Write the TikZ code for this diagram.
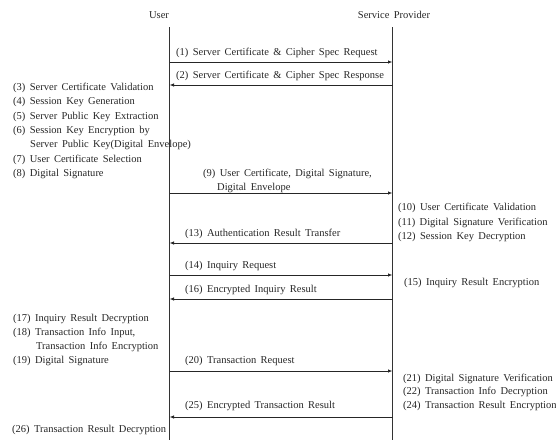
\documentclass[tikz,border=0pt]{standalone}
\usepackage{fontspec}
\setmainfont{Liberation Serif}
\usetikzlibrary{arrows.meta}
\begin{document}
\begin{tikzpicture}[x=1pt,y=-1pt,
  txt/.style={anchor=base west,inner sep=0pt,font={\fontsize{10.5}{12}\selectfont\spaceskip=4.4pt\relax},text=black!85},
  ttl/.style={anchor=base,inner sep=0pt,font={\fontsize{10.5}{12}\selectfont\spaceskip=4.4pt\relax},text=black!85},
  life/.style={draw=black!80,line width=1.2pt},
  msg/.style={draw=black!85,line width=0.8pt,-{Latex[length=4.5pt,width=3.5pt]}}]
\useasboundingbox (0,0) rectangle (556,440);
% titles
\node[ttl] (tu) at (159,18.5) {User};
\node[ttl] (ts) at (394,18.5) {Service Provider};
% lifelines
\coordinate (u0) at (169.5,27);
\coordinate (u1) at (169.5,440);
\coordinate (s0) at (392.5,27);
\coordinate (s1) at (392.5,440);
\draw[life] (u0) -- (u1);
\draw[life] (s0) -- (s1);
% message anchor points
\foreach \n/\y in {1/62,2/85,9/193,13/243,14/275,16/299,20/371,25/417}{
  \coordinate (ua\n) at (169.5,\y);
  \coordinate (sa\n) at (392.5,\y);
}
\draw[msg] (ua1) -- (sa1);
\draw[msg] (sa2) -- (ua2);
\draw[msg] (ua9) -- (sa9);
\draw[msg] (sa13) -- (ua13);
\draw[msg] (ua14) -- (sa14);
\draw[msg] (sa16) -- (ua16);
\draw[msg] (ua20) -- (sa20);
\draw[msg] (sa25) -- (ua25);
% message labels
\node[txt] (m1) at (176,55.5) {(1) Server Certificate \& Cipher Spec Request};
\node[txt] (m2) at (176,78.5) {(2) Server Certificate \& Cipher Spec Response};
\node[txt] (m9a) at (203,176.5) {(9) User Certificate, Digital Signature,};
\node[txt] (m9b) at (217,190.5) {Digital Envelope};
\node[txt] (m13) at (185,236.5) {(13) Authentication Result Transfer};
\node[txt] (m14) at (185,268.5) {(14) Inquiry Request};
\node[txt] (m16) at (185,292.5) {(16) Encrypted Inquiry Result};
\node[txt] (m20) at (185,363.5) {(20) Transaction Request};
\node[txt] (m25) at (185,408.5) {(25) Encrypted Transaction Result};
% user side notes
\node[txt] (n3) at (13,90.5) {(3) Server Certificate Validation};
\node[txt] (n4) at (13,104.8) {(4) Session Key Generation};
\node[txt] (n5) at (13,119.1) {(5) Server Public Key Extraction};
\node[txt] (n6) at (13,133.4) {(6) Session Key Encryption by};
\node[txt] (n6b) at (30,147.7) {Server Public Key(Digital Envelope)};
\node[txt] (n7) at (13,162) {(7) User Certificate Selection};
\node[txt] (n8) at (13,176.3) {(8) Digital Signature};
\node[txt] (n17) at (13,321.8) {(17) Inquiry Result Decryption};
\node[txt] (n18) at (13,335.6) {(18) Transaction Info Input,};
\node[txt] (n18b) at (36,349.4) {Transaction Info Encryption};
\node[txt] (n19) at (13,363.5) {(19) Digital Signature};
\node[txt] (n26) at (12,432) {(26) Transaction Result Decryption};
% provider side notes
\node[txt] (n10) at (398,210.5) {(10) User Certificate Validation};
\node[txt] (n11) at (398,225) {(11) Digital Signature Verification};
\node[txt] (n12) at (398,239.5) {(12) Session Key Decryption};
\node[txt] (n15) at (404,285.5) {(15) Inquiry Result Encryption};
\node[txt] (n21) at (403,381) {(21) Digital Signature Verification};
\node[txt] (n22) at (403,394.5) {(22) Transaction Info Decryption};
\node[txt] (n24) at (403,408) {(24) Transaction Result Encryption};
\end{tikzpicture}
\end{document}
